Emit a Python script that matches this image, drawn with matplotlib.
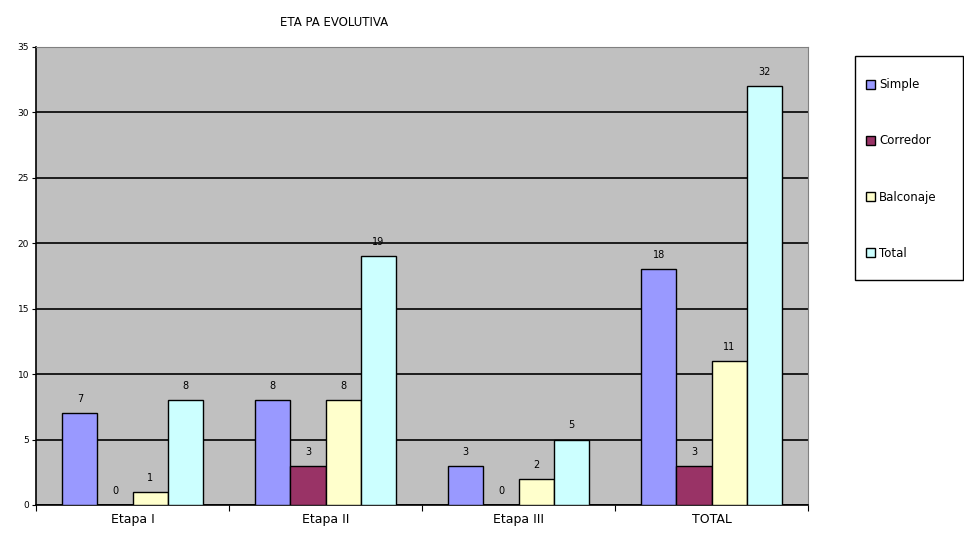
import numpy as np
import matplotlib.pyplot as plt
from matplotlib.patches import Patch, Rectangle

categories = ['Etapa I', 'Etapa II', 'Etapa III', 'TOTAL']
series = ['Simple', 'Corredor', 'Balconaje', 'Total']
simple = [7, 8, 3, 18]
corredor = [0, 3, 0, 3]
balconaje = [1, 8, 2, 11]
total = [8, 19, 5, 32]
colors = ['#9999FF', '#993366', '#FFFFCC', '#CCFFFF']

values = [simple, corredor, balconaje, total]

fig = plt.figure(figsize=(9.64, 5.35), dpi=100)
ax = fig.add_axes([36 / 964, 1 - 505 / 535, (808 - 36) / 964, (505 - 47) / 535])
ax.set_facecolor('#C0C0C0')

x = np.arange(len(categories))
w = 1 / 5.5
for i, (vals, c) in enumerate(zip(values, colors)):
    pos = x + (i - 1.5) * w
    ax.bar(pos, vals, width=w, color=c, edgecolor='black', linewidth=1, zorder=3)
    for p, v in zip(pos, vals):
        ax.text(p, v + 0.7, str(v), ha='center', va='bottom', fontsize=7, zorder=4)

ax.set_xlim(-0.5, len(categories) - 0.5)
ax.set_ylim(0, 35)
ax.set_yticks(range(0, 36, 5))
ax.yaxis.grid(True, color='black', linewidth=1.2, zorder=1)
ax.set_axisbelow(True)
ax.tick_params(axis='y', labelsize=6.5, length=3, pad=2)
ax.set_xticks(np.arange(-0.5, len(categories), 1))
ax.set_xticklabels([])
ax.tick_params(axis='x', length=4)
ax.set_xticks(x, minor=True)
ax.set_xticklabels(categories, minor=True, fontsize=9)
ax.tick_params(axis='x', which='minor', length=0, pad=6)
for s in ['top', 'right']:
    ax.spines[s].set_color('#808080')
ax.spines['left'].set_linewidth(1.2)
ax.spines['bottom'].set_linewidth(1.2)

fig.text(334 / 964, 1 - 22 / 535, 'ETA PA EVOLUTIVA', ha='center', va='center', fontsize=8.5)

# legend box drawn separately so the padding can differ per side
fig.patches.append(Rectangle((855 / 964, 1 - 280 / 535), 108 / 964, 224 / 535,
                             transform=fig.transFigure, facecolor='white',
                             edgecolor='black', linewidth=1, zorder=0))
handles = [Patch(facecolor=c, edgecolor='black', label=s) for s, c in zip(series, colors)]
leg = fig.legend(handles=handles, loc='center left', bbox_to_anchor=(866 / 964, 1 - 169 / 535),
                 fontsize=8.5, frameon=False,
                 handlelength=0.8, handleheight=0.8, handletextpad=0.3,
                 labelspacing=3.66, borderpad=0, borderaxespad=0)

fig.savefig('out.png', dpi=100)
